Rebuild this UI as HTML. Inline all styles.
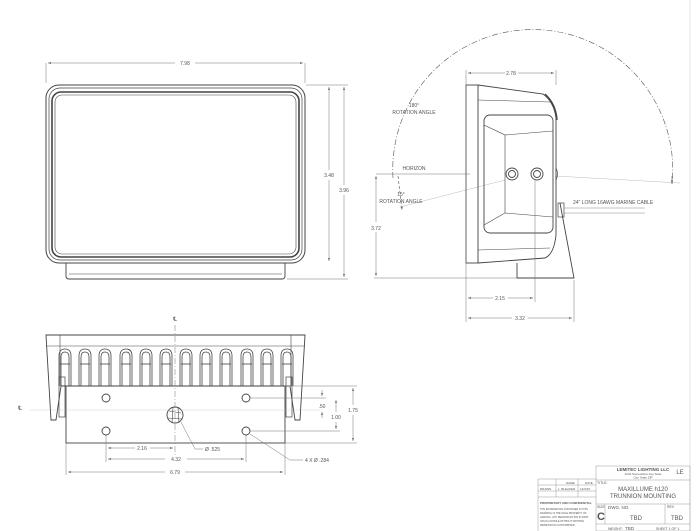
<!DOCTYPE html>
<html><head><meta charset="utf-8"><style>
html,body{margin:0;padding:0;background:#fff;}
svg{display:block;}
text{font-family:"Liberation Sans",sans-serif;fill:#555;}
</style></head><body>
<svg width="700" height="531" viewBox="0 0 700 531" xmlns="http://www.w3.org/2000/svg">
<defs>
<marker id="a" markerWidth="6" markerHeight="4" refX="6" refY="2" orient="auto-start-reverse"><path d="M0,0L6,2L0,4z" fill="#666"/></marker>
<g id="fin" fill="none" stroke="#444" stroke-width="0.8">
<path d="M-6,36 L-6,6 Q-6,-1 0,-1 Q6,-1 6,6 L6,36"/>
<path d="M-4,36 L-4,7 Q-4,2 0,2 Q4,2 4,7 L4,36"/>
<line x1="-5" y1="14" x2="5" y2="14"/>
</g>
</defs>
<rect width="700" height="531" fill="#fff"/>
<line x1="690" y1="0" x2="690" y2="531" stroke="#ddd" stroke-width="0.8"/>

<!-- FRONT VIEW -->
<g fill="none" stroke="#444">
<rect x="46" y="85" width="259" height="178" rx="13" stroke-width="1"/>
<rect x="49" y="88" width="253" height="172" rx="11" stroke-width="0.7"/>
<rect x="52" y="92" width="247" height="165" rx="9" stroke-width="1.6"/>
<rect x="55" y="95" width="241" height="159" rx="7" stroke-width="0.6"/>
<path d="M66,263 L66,276 Q66,279 69,279 L282,279 Q285,279 285,276 L285,263" stroke-width="0.9"/>
<line x1="69" y1="274" x2="282" y2="274" stroke-width="0.5"/>
</g>
<g stroke="#777" stroke-width="0.5" fill="none">
<line x1="46" y1="63" x2="46" y2="83"/><line x1="305" y1="63" x2="305" y2="83"/>
<line x1="48" y1="63" x2="175" y2="63" marker-start="url(#a)"/>
<line x1="195" y1="63" x2="303" y2="63" marker-end="url(#a)"/>
<line x1="306" y1="85" x2="348" y2="85"/><line x1="287" y1="279" x2="348" y2="279"/>
<line x1="329" y1="87" x2="329" y2="170" marker-start="url(#a)"/>
<line x1="329" y1="180" x2="329" y2="261" marker-end="url(#a)"/>
<line x1="344" y1="87" x2="344" y2="185" marker-start="url(#a)"/>
<line x1="344" y1="195" x2="344" y2="277" marker-end="url(#a)"/>
</g>
<text x="185" y="65" font-size="5" text-anchor="middle">7.98</text>
<text x="329" y="177" font-size="5" text-anchor="middle">3.48</text>
<text x="344" y="192" font-size="5" text-anchor="middle">3.96</text>

<!-- SIDE VIEW -->
<path d="M393,178 A140,140 0 1 1 672,184" fill="none" stroke="#555" stroke-width="0.6" stroke-dasharray="6,2,1,2"/>
<line x1="672" y1="176" x2="672" y2="184" stroke="#555" stroke-width="0.6" marker-end="url(#a)"/>
<path d="M398,176 L402,210" fill="none" stroke="#555" stroke-width="0.6" stroke-dasharray="3,2" marker-end="url(#a)"/>
<line x1="376" y1="174" x2="470" y2="174" stroke="#777" stroke-width="0.5"/>
<line x1="400" y1="207" x2="505" y2="180" stroke="#aaa" stroke-width="0.4"/>
<line x1="555" y1="176" x2="680" y2="183" stroke="#aaa" stroke-width="0.4"/>
<g fill="none" stroke="#444" stroke-width="0.9">
<rect x="466" y="85" width="12" height="178"/>
<path d="M478,85 L543,94 Q554,102 556,118 L556,235 Q554,254 545,258 L478,263"/>
<line x1="478" y1="100" x2="550" y2="102" stroke-width="0.5"/>
<line x1="478" y1="250" x2="550" y2="248" stroke-width="0.5"/>
<path d="M545,94 Q556,104 557,120" stroke-width="1.4"/>
<rect x="484" y="115" width="69" height="118" rx="6"/>
<path d="M484,125 L505,135 L505,213 L484,225" stroke-width="0.6"/>
<line x1="505" y1="135" x2="553" y2="131" stroke-width="0.6"/>
<line x1="505" y1="213" x2="553" y2="217" stroke-width="0.6"/>
<circle cx="512" cy="174" r="6"/><circle cx="512" cy="174" r="3.5"/>
<circle cx="537" cy="174" r="6"/><circle cx="537" cy="174" r="3.5"/>
<path d="M517,263 L517,278 L574,278 L560,203"/>
<rect x="558" y="203" width="6" height="14" stroke-width="0.7"/>
<line x1="564" y1="208" x2="645" y2="208" stroke-width="0.5" stroke="#888"/>
<line x1="564" y1="213" x2="645" y2="213" stroke-width="0.5" stroke="#888"/>
<path d="M556,168 Q559,174 556,180" stroke-width="0.7"/>
</g>
<g stroke="#777" stroke-width="0.5" fill="none">
<line x1="466" y1="70" x2="466" y2="322"/><line x1="556" y1="70" x2="556" y2="85"/>
<line x1="468" y1="73" x2="505" y2="73" marker-start="url(#a)"/>
<line x1="518" y1="73" x2="554" y2="73" marker-end="url(#a)"/>
<line x1="535" y1="180" x2="535" y2="302"/><line x1="574" y1="280" x2="574" y2="322"/>
<line x1="468" y1="298" x2="493" y2="298" marker-start="url(#a)"/>
<line x1="508" y1="298" x2="533" y2="298" marker-end="url(#a)"/>
<line x1="468" y1="318" x2="512" y2="318" marker-start="url(#a)"/>
<line x1="528" y1="318" x2="572" y2="318" marker-end="url(#a)"/>
<line x1="376" y1="176" x2="376" y2="222" marker-start="url(#a)"/>
<line x1="376" y1="232" x2="376" y2="276" marker-end="url(#a)"/>
<line x1="374" y1="278" x2="517" y2="278"/>
</g>
<text x="511" y="75" font-size="5" text-anchor="middle">2.78</text>
<text x="500" y="300" font-size="5" text-anchor="middle">2.15</text>
<text x="520" y="320" font-size="5" text-anchor="middle">3.32</text>
<text x="376" y="230" font-size="5" text-anchor="middle">3.72</text>
<text x="414" y="107" font-size="5" text-anchor="middle">180°</text>
<text x="414" y="114" font-size="5" text-anchor="middle">ROTATION ANGLE</text>
<text x="414" y="170" font-size="5" text-anchor="middle">HORIZON</text>
<text x="401" y="196" font-size="5" text-anchor="middle">15°</text>
<text x="401" y="203" font-size="5" text-anchor="middle">ROTATION ANGLE</text>
<text x="573" y="204" font-size="5">24" LONG 16AWG MARINE CABLE</text>

<!-- BOTTOM VIEW -->
<text x="175" y="321" font-size="6" text-anchor="middle">℄</text>
<text x="20" y="410" font-size="6" text-anchor="middle">℄</text>
<g fill="none" stroke="#444" stroke-width="0.9">
<path d="M46,335 L305,335 L300,420 L295,420 L290,386 L61,386 L56,420 L51,420 Z"/>
<line x1="46" y1="346" x2="305" y2="346" stroke-width="0.6"/>
<line x1="60" y1="335" x2="60" y2="386" stroke-width="0.6"/>
<line x1="291" y1="335" x2="291" y2="386" stroke-width="0.6"/>
<rect x="66" y="386" width="219" height="57"/>
<circle cx="106" cy="398" r="4"/><circle cx="246" cy="398" r="4"/>
<circle cx="106" cy="431" r="4"/><circle cx="246" cy="431" r="4"/>
<circle cx="175" cy="415" r="8"/>
<path d="M169,411 L181,413 M168,418 L182,419 M173,407 L172,423 M178,407 L179,423" stroke-width="0.6"/>
<rect x="59" y="377" width="6" height="40" stroke-width="0.7"/>
<rect x="286" y="377" width="6" height="40" stroke-width="0.7"/>
</g>
<g transform="translate(0,350)">
<use href="#fin" x="65"/><use href="#fin" x="85"/><use href="#fin" x="105"/><use href="#fin" x="126"/>
<use href="#fin" x="146"/><use href="#fin" x="166"/><use href="#fin" x="186"/><use href="#fin" x="206"/>
<use href="#fin" x="226"/><use href="#fin" x="247"/><use href="#fin" x="267"/><use href="#fin" x="287"/>
</g>
<g stroke="#777" stroke-width="0.5" fill="none">
<line x1="175" y1="325" x2="175" y2="455" stroke-dasharray="6,2,1,2"/>
<line x1="30" y1="410" x2="320" y2="410" stroke="#bbb" stroke-width="0.3"/>
<line x1="106" y1="435" x2="106" y2="462"/><line x1="246" y1="435" x2="246" y2="462"/>
<line x1="66" y1="443" x2="66" y2="475"/><line x1="285" y1="443" x2="285" y2="475"/>
<line x1="108" y1="448" x2="135" y2="448" marker-start="url(#a)"/>
<line x1="150" y1="448" x2="173" y2="448" marker-end="url(#a)"/>
<line x1="108" y1="459" x2="165" y2="459" marker-start="url(#a)"/>
<line x1="187" y1="459" x2="244" y2="459" marker-end="url(#a)"/>
<line x1="68" y1="472" x2="165" y2="472" marker-start="url(#a)"/>
<line x1="185" y1="472" x2="283" y2="472" marker-end="url(#a)"/>
<line x1="181" y1="422" x2="195" y2="449"/><line x1="195" y1="449" x2="203" y2="449"/>
<line x1="250" y1="434" x2="290" y2="460"/><line x1="290" y1="460" x2="303" y2="460"/>
<line x1="250" y1="398" x2="326" y2="398"/><line x1="285" y1="386" x2="357" y2="386"/>
<line x1="250" y1="431" x2="340" y2="431"/><line x1="285" y1="443" x2="357" y2="443"/>
<line x1="322" y1="390" x2="322" y2="396" marker-end="url(#a)"/>
<line x1="322" y1="418" x2="322" y2="412" marker-end="url(#a)"/>
<line x1="336" y1="400" x2="336" y2="412" marker-start="url(#a)"/>
<line x1="336" y1="422" x2="336" y2="429" marker-end="url(#a)"/>
<line x1="353" y1="388" x2="353" y2="405" marker-start="url(#a)"/>
<line x1="353" y1="415" x2="353" y2="441" marker-end="url(#a)"/>
</g>
<text x="142" y="450" font-size="5" text-anchor="middle">2.16</text>
<text x="176" y="461" font-size="5" text-anchor="middle">4.32</text>
<text x="175" y="474" font-size="5" text-anchor="middle">6.79</text>
<text x="205" y="451" font-size="5">Ø .525</text>
<text x="305" y="462" font-size="5">4 X Ø .284</text>
<text x="322" y="408" font-size="5" text-anchor="middle">.50</text>
<text x="336" y="419" font-size="5" text-anchor="middle">1.00</text>
<text x="353" y="412" font-size="5" text-anchor="middle">1.75</text>

<!-- TITLE BLOCK -->
<g fill="none" stroke="#999" stroke-width="0.5">
<rect x="596" y="466" width="94" height="65"/>
<line x1="596" y1="480" x2="690" y2="480"/>
<line x1="596" y1="504" x2="690" y2="504"/>
<line x1="596" y1="524" x2="690" y2="524"/>
<line x1="605" y1="504" x2="605" y2="524"/>
<line x1="665" y1="504" x2="665" y2="524"/>
<line x1="538" y1="479" x2="596" y2="479"/>
<line x1="538" y1="485" x2="596" y2="485"/>
<line x1="538" y1="491" x2="596" y2="491"/>
<line x1="538" y1="497" x2="596" y2="497"/>
<line x1="556" y1="479" x2="556" y2="497"/>
<line x1="578" y1="479" x2="578" y2="497"/>
<line x1="538" y1="479" x2="538" y2="531"/>
</g>
<text x="643" y="471" font-size="4.5" text-anchor="middle" font-weight="bold">LEMITEC LIGHTING LLC</text>
<text x="643" y="475" font-size="3" text-anchor="middle">1234 Somewhere Ave Suite</text>
<text x="643" y="478.5" font-size="3" text-anchor="middle">City, State ZIP</text>
<text x="680" y="474" font-size="6" text-anchor="middle">LE</text>
<text x="597" y="484" font-size="3.5">TITLE:</text>
<text x="643" y="491" font-size="6" text-anchor="middle">MAXILLUME h120</text>
<text x="643" y="498" font-size="6" text-anchor="middle">TRUNNION MOUNTING</text>
<text x="597" y="508" font-size="3.5">SIZE</text>
<text x="597" y="520" font-size="11" fill="#222" font-weight="bold">C</text>
<text x="608" y="509" font-size="4.5">DWG. NO.</text>
<text x="630" y="520" font-size="6">TBD</text>
<text x="667" y="508" font-size="3.5">REV</text>
<text x="671" y="520" font-size="6">TBD</text>
<text x="608" y="530" font-size="3.5">WEIGHT:</text>
<text x="625" y="530" font-size="4.5">TBD</text>
<text x="656" y="530" font-size="3.5">SHEET 1 OF 1</text>
<text x="566" y="484" font-size="3">NAME</text><text x="585" y="484" font-size="3">DATE</text>
<text x="540" y="490" font-size="3">DRAWN</text><text x="558" y="490" font-size="3">L. BLEAKER</text><text x="580" y="490" font-size="3">12/3/15</text>
<text x="540" y="504" font-size="3" font-weight="bold">PROPRIETARY AND CONFIDENTIAL</text>
<text x="540" y="510" font-size="2.5">THE INFORMATION CONTAINED IN THIS</text>
<text x="540" y="514" font-size="2.5">DRAWING IS THE SOLE PROPERTY OF</text>
<text x="540" y="518" font-size="2.5">LEMITEC. ANY REPRODUCTION IN PART</text>
<text x="540" y="522" font-size="2.5">OR AS A WHOLE WITHOUT WRITTEN</text>
<text x="540" y="526" font-size="2.5">PERMISSION IS PROHIBITED.</text>
</svg>
</body></html>
